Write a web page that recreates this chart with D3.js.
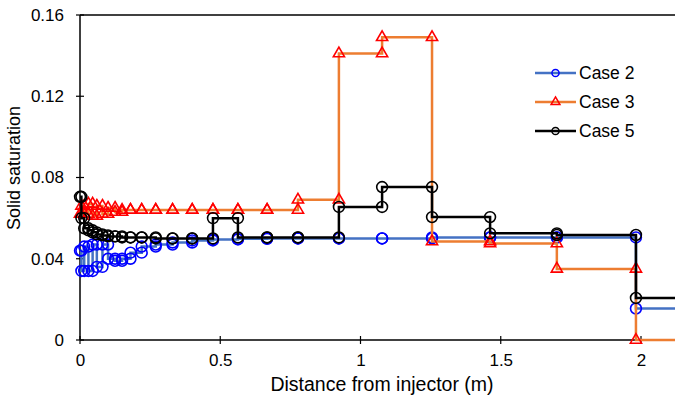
<!DOCTYPE html>
<html>
<head>
<meta charset="utf-8">
<script src="https://cdn.jsdelivr.net/npm/d3@7"></script>
<style>
  body { margin: 0; background: #fff; }
  svg { display: block; font-family: "Liberation Sans", Arial, sans-serif; }
</style>
</head>
<body>
<svg id="chart" width="675" height="403"></svg>
<script>
// Cell boundaries along the flow path (m)
const boundaries = [0, 0.005, 0.015, 0.03, 0.045, 0.06, 0.08, 0.10, 0.125, 0.15, 0.18, 0.22, 0.27, 0.33, 0.40, 0.474, 0.563, 0.667, 0.777, 0.923, 1.077, 1.255, 1.462, 1.70, 1.982, 2.4];
// Solid saturation per cell
const case2 = [0.044, 0.034, 0.046, 0.034, 0.047, 0.036, 0.047, 0.040, 0.039, 0.040, 0.043, 0.046, 0.047, 0.048, 0.049, 0.0495, 0.0498, 0.050, 0.050, 0.050, 0.050, 0.0505, 0.0505, 0.0505, 0.0155];
const case3 = [0.062, 0.066, 0.062, 0.067, 0.061, 0.066, 0.062, 0.065, 0.063, 0.064, 0.064, 0.064, 0.064, 0.064, 0.064, 0.064, 0.064, 0.064, 0.069, 0.141, 0.149, 0.0485, 0.0475, 0.035, 0.0];
const case5 = [0.0705, 0.060, 0.055, 0.054, 0.053, 0.052, 0.0515, 0.051, 0.051, 0.0505, 0.0505, 0.0505, 0.050, 0.050, 0.050, 0.060, 0.0505, 0.0505, 0.0505, 0.0655, 0.0753, 0.0605, 0.0525, 0.0517, 0.0207];
const seriesNames = ["Case 2", "Case 3", "Case 5"];
const xTicks = [0, 0.5, 1, 1.5, 2];
const xTickLabels = ["0", "0.5", "1", "1.5", "2"];
const yTicks = [0, 0.04, 0.08, 0.12, 0.16];
const yTickLabels = ["0", "0.04", "0.08", "0.12", "0.16"];

const styles = [
  { line: "#4472C4", marker: "#0000FF", shape: "circle" },
  { line: "#ED7D31", marker: "#FF0000", shape: "triangle" },
  { line: "#000000", marker: "#000000", shape: "circle" }
];

const svg = d3.select("#chart");
const x = d3.scaleLinear().domain([0, 2]).range([80, 641]);
const y = d3.scaleLinear().domain([0, 0.16]).range([340, 15]);

// clip so that the last cell runs off the right edge like the original
svg.append("defs").append("clipPath").attr("id", "clip")
  .append("rect").attr("x", 68).attr("y", 5).attr("width", 675 - 68).attr("height", 345);

// build the step points: each cell gives a point at both ends
function stepPoints(vals) {
  const pts = [];
  vals.forEach((v, i) => {
    pts.push([boundaries[i], v]);
    pts.push([boundaries[i + 1], v]);
  });
  return pts;
}

const allSeries = [case2, case3, case5].map(stepPoints);

// Frame top line
svg.append("line").attr("x1", x(0)).attr("x2", 675).attr("y1", y(0.16)).attr("y2", y(0.16))
  .attr("stroke", "#000").attr("stroke-width", 1.5);

// Axes
const yAxis = d3.axisLeft(y).tickValues(yTicks).tickFormat((d, i) => yTickLabels[i]).tickSizeInner(0).tickSizeOuter(0).tickPadding(16);
const gy = svg.append("g").attr("transform", `translate(${x(0)},0)`).call(yAxis);
const xAxis = d3.axisBottom(x).tickValues(xTicks).tickFormat((d, i) => xTickLabels[i]).tickSizeInner(0).tickSizeOuter(0).tickPadding(14);
const gx = svg.append("g").attr("transform", `translate(0,${y(0)})`).call(xAxis);
[gx, gy].forEach(g => {
  g.select(".domain").remove();
  g.selectAll("text").attr("font-size", 17).attr("fill", "#000").attr("font-family", "Liberation Sans, Arial, sans-serif");
});
gx.selectAll(".tick text").attr("dy", "0.71em");
// axis lines
svg.append("line").attr("x1", x(0)).attr("x2", x(0)).attr("y1", y(0.16)).attr("y2", y(0))
  .attr("stroke", "#000").attr("stroke-width", 1.5);
svg.append("line").attr("x1", x(0)).attr("x2", 675).attr("y1", y(0)).attr("y2", y(0))
  .attr("stroke", "#000").attr("stroke-width", 1.5);
// cross ticks
svg.selectAll(".yt").data(yTicks).enter().append("line")
  .attr("x1", x(0) - 4).attr("x2", x(0) + 4).attr("y1", d => y(d)).attr("y2", d => y(d))
  .attr("stroke", "#000").attr("stroke-width", 1.2);
svg.selectAll(".xt").data(xTicks).enter().append("line")
  .attr("x1", d => x(d)).attr("x2", d => x(d)).attr("y1", y(0) - 4).attr("y2", y(0) + 4)
  .attr("stroke", "#000").attr("stroke-width", 1.2);

// Axis titles
svg.append("text").attr("x", 382).attr("y", 391).attr("text-anchor", "middle")
  .attr("font-size", 19.5).text("Distance from injector (m)");
svg.append("text").attr("transform", "translate(20,168) rotate(-90)").attr("text-anchor", "middle")
  .attr("font-size", 18).text("Solid saturation");

const line = d3.line().x(d => x(d[0])).y(d => y(d[1]));
const circleSym = d3.symbol().type(d3.symbolCircle).size(92);
const triSym = d3.symbol().type(d3.symbolTriangle).size(54);

const plot = svg.append("g").attr("clip-path", "url(#clip)");
allSeries.forEach((pts, si) => {
  const st = styles[si];
  const g = plot.append("g");
  g.append("path").datum(pts).attr("d", line).attr("fill", "none")
    .attr("stroke", st.line).attr("stroke-width", 2.5).attr("stroke-linejoin", "miter");
  g.selectAll("path.m").data(pts).enter().append("path").attr("class", "m")
    .attr("transform", d => `translate(${x(d[0])},${y(d[1])})`)
    .attr("d", st.shape === "circle" ? circleSym : triSym)
    .attr("fill", "none").attr("stroke", st.marker).attr("stroke-width", 1.6);
});

// Legend
const legY = [73, 102, 131];
seriesNames.forEach((name, i) => {
  const st = styles[i];
  const g = svg.append("g");
  g.append("line").attr("x1", 535).attr("x2", 576).attr("y1", legY[i]).attr("y2", legY[i])
    .attr("stroke", st.line).attr("stroke-width", 2.5);
  g.append("path").attr("transform", `translate(555.5,${legY[i]})`)
    .attr("d", st.shape === "circle" ? d3.symbol().type(d3.symbolCircle).size(40)() : d3.symbol().type(d3.symbolTriangle).size(34)())
    .attr("fill", "none").attr("stroke", st.marker).attr("stroke-width", 1.5);
  g.append("text").attr("x", 579).attr("y", legY[i] + 6).attr("font-size", 17.5).text(name);
});
</script>
</body>
</html>
